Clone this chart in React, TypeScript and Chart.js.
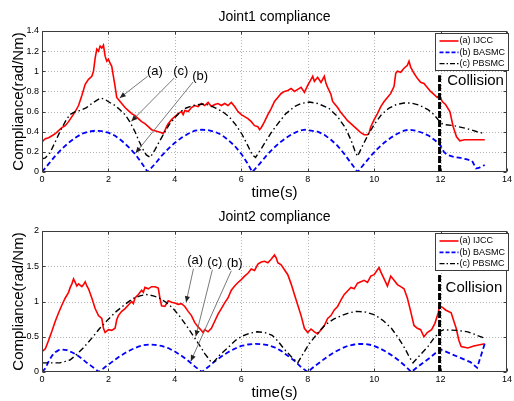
import React, { useEffect, useRef } from 'react';
import { Chart, registerables } from 'chart.js';

Chart.register(...registerables);

type Pt = [number, number];

const FONT = "'Liberation Sans', Arial, Helvetica, sans-serif";
const RED = '#ff0000';
const BLUE = '#0000ff';
const BLACK = '#000000';

const X_TICKS = [0, 2, 4, 6, 8, 10, 12, 14];
const J1_Y_TICKS = [0, 0.2, 0.4, 0.6, 0.8, 1, 1.2, 1.4];
const J2_Y_TICKS = [0, 0.5, 1, 1.5, 2];
const LEGEND_LABELS = ['(a) IJCC', '(b) BASMC', '(c) PBSMC'];
const X_LABEL = 'time(s)';
const Y_LABEL = 'Compliance(rad/Nm)';
const COLLISION_T = 11.97;
const J1_COLLISION_TOP = 0.96;
const J2_COLLISION_TOP = 1.38;

// Joint 1 series
const j1Ijcc: Pt[] = [
  [0, 0.3], [0.1, 0.33], [0.2, 0.34], [0.3, 0.36], [0.4, 0.38], [0.5, 0.41], [0.6, 0.44], [0.7, 0.46],
  [0.8, 0.5], [0.9, 0.55], [1.0, 0.6], [1.1, 0.66], [1.2, 0.76], [1.3, 0.87], [1.4, 0.92], [1.5, 0.95],
  [1.55, 1.0], [1.6, 1.13], [1.65, 1.22], [1.7, 1.2], [1.75, 1.25], [1.8, 1.23], [1.85, 1.26], [1.9, 1.15],
  [1.95, 1.1], [2.0, 1.12], [2.05, 1.08], [2.1, 1.05], [2.15, 0.95], [2.2, 0.85], [2.25, 0.74], [2.3, 0.72],
  [2.4, 0.68], [2.5, 0.64], [2.6, 0.61], [2.7, 0.58], [2.8, 0.56], [2.9, 0.53], [3.0, 0.5], [3.1, 0.48],
  [3.2, 0.45], [3.3, 0.42], [3.4, 0.41], [3.5, 0.4], [3.6, 0.39], [3.65, 0.38], [3.7, 0.41], [3.75, 0.45],
  [3.8, 0.48], [3.9, 0.52], [4.0, 0.55], [4.1, 0.58], [4.2, 0.6], [4.25, 0.57], [4.3, 0.61], [4.4, 0.6],
  [4.5, 0.64], [4.6, 0.66], [4.7, 0.65], [4.8, 0.68], [4.9, 0.66], [5.0, 0.69], [5.1, 0.65], [5.2, 0.67],
  [5.3, 0.68], [5.4, 0.66], [5.5, 0.68], [5.6, 0.66], [5.7, 0.69], [5.8, 0.65], [5.9, 0.6], [6.0, 0.57],
  [6.1, 0.55], [6.2, 0.53], [6.3, 0.5], [6.4, 0.46], [6.5, 0.45], [6.55, 0.42], [6.6, 0.44], [6.7, 0.5],
  [6.8, 0.57], [6.9, 0.63], [7.0, 0.7], [7.1, 0.74], [7.2, 0.78], [7.3, 0.8], [7.4, 0.81], [7.5, 0.83],
  [7.6, 0.8], [7.7, 0.82], [7.8, 0.84], [7.9, 0.79], [8.0, 0.86], [8.1, 0.92], [8.15, 0.95], [8.2, 0.9],
  [8.3, 0.94], [8.4, 0.89], [8.5, 0.95], [8.55, 0.88], [8.6, 0.84], [8.7, 0.77], [8.75, 0.7], [8.8, 0.68],
  [8.9, 0.64], [9.0, 0.59], [9.1, 0.55], [9.2, 0.51], [9.3, 0.48], [9.4, 0.45], [9.5, 0.42], [9.6, 0.39],
  [9.7, 0.37], [9.8, 0.37], [9.85, 0.39], [9.9, 0.45], [10.0, 0.52], [10.1, 0.58], [10.2, 0.65], [10.3, 0.7],
  [10.4, 0.74], [10.5, 0.78], [10.6, 0.85], [10.65, 0.98], [10.7, 1.0], [10.8, 0.99], [10.9, 1.03], [11.0, 1.06],
  [11.05, 1.1], [11.1, 1.04], [11.2, 0.98], [11.3, 0.93], [11.4, 0.89], [11.5, 0.88], [11.6, 0.84], [11.7, 0.8],
  [11.8, 0.77], [11.9, 0.74], [11.97, 0.76], [12.05, 0.7], [12.15, 0.67], [12.28, 0.6], [12.38, 0.45],
  [12.48, 0.35], [12.58, 0.31], [12.73, 0.32], [13.0, 0.32], [13.33, 0.32],
];

const j1Basmc: Pt[] = [
  [0, 0], [0.2, 0.08], [0.4, 0.16], [0.6, 0.23], [0.8, 0.29], [1.0, 0.34], [1.2, 0.38], [1.4, 0.4],
  [1.6, 0.41], [1.8, 0.405], [2.0, 0.39], [2.2, 0.36], [2.4, 0.31], [2.6, 0.25], [2.8, 0.18], [3.0, 0.09],
  [3.18, 0], [3.4, 0.08], [3.6, 0.16], [3.8, 0.23], [4.0, 0.29], [4.2, 0.34], [4.4, 0.38], [4.6, 0.41],
  [4.8, 0.42], [5.0, 0.415], [5.2, 0.4], [5.4, 0.37], [5.6, 0.32], [5.8, 0.26], [6.0, 0.18], [6.2, 0.08],
  [6.33, 0], [6.55, 0.08], [6.75, 0.16], [6.95, 0.23], [7.15, 0.29], [7.35, 0.34], [7.55, 0.38], [7.75, 0.41],
  [7.92, 0.42], [8.1, 0.41], [8.3, 0.4], [8.5, 0.37], [8.7, 0.32], [8.9, 0.26], [9.1, 0.18], [9.3, 0.09],
  [9.5, 0], [9.7, 0.08], [9.9, 0.16], [10.1, 0.23], [10.3, 0.29], [10.5, 0.34], [10.7, 0.38], [10.9, 0.41],
  [11.05, 0.42], [11.25, 0.41], [11.45, 0.39], [11.65, 0.36], [11.85, 0.31], [12.0, 0.26], [12.1, 0.2],
  [12.2, 0.17], [12.4, 0.15], [12.6, 0.14], [12.8, 0.125], [12.95, 0.11], [13.07, 0.035], [13.15, 0.04],
  [13.33, 0.07],
];

const j1Pbsmc: Pt[] = [
  [0, 0.13], [0.1, 0.14], [0.24, 0.19], [0.4, 0.3], [0.54, 0.4], [0.7, 0.5], [0.84, 0.57], [1.0, 0.6],
  [1.15, 0.61], [1.34, 0.64], [1.54, 0.69], [1.77, 0.735], [1.9, 0.72], [2.04, 0.69], [2.2, 0.66],
  [2.34, 0.62], [2.5, 0.57], [2.64, 0.5], [2.8, 0.4], [2.93, 0.3], [3.05, 0.22], [3.14, 0.17], [3.26, 0.145],
  [3.4, 0.22], [3.53, 0.3], [3.7, 0.4], [3.83, 0.47], [4.0, 0.54], [4.13, 0.585], [4.3, 0.63], [4.53, 0.66],
  [4.83, 0.675], [5.03, 0.665], [5.23, 0.635], [5.43, 0.6], [5.63, 0.55], [5.83, 0.47], [6.03, 0.37],
  [6.2, 0.26], [6.33, 0.17], [6.43, 0.145], [6.58, 0.22], [6.73, 0.3], [6.9, 0.39], [7.08, 0.47],
  [7.33, 0.575], [7.6, 0.65], [7.8, 0.68], [8.05, 0.695], [8.3, 0.68], [8.63, 0.635], [8.9, 0.55],
  [9.13, 0.44], [9.3, 0.32], [9.42, 0.21], [9.5, 0.155], [9.65, 0.26], [9.82, 0.37], [10.0, 0.47],
  [10.22, 0.57], [10.45, 0.635], [10.67, 0.67], [10.9, 0.685], [11.12, 0.685], [11.35, 0.665], [11.62, 0.62],
  [11.8, 0.57], [11.95, 0.51], [12.05, 0.48], [12.15, 0.47], [12.4, 0.46], [12.8, 0.43], [13.1, 0.4],
  [13.33, 0.38],
];

// Joint 2 series
const j2Ijcc: Pt[] = [
  [0, 0.29], [0.1, 0.33], [0.2, 0.45], [0.3, 0.58], [0.4, 0.72], [0.5, 0.84], [0.6, 0.95], [0.7, 1.05],
  [0.8, 1.13], [0.85, 1.2], [0.9, 1.25], [0.95, 1.32], [1.0, 1.27], [1.05, 1.22], [1.1, 1.25], [1.2, 1.21],
  [1.25, 1.24], [1.3, 1.28], [1.35, 1.22], [1.4, 1.18], [1.5, 1.05], [1.6, 0.9], [1.7, 0.8], [1.8, 0.76],
  [1.85, 0.62], [1.9, 0.56], [2.0, 0.6], [2.1, 0.59], [2.2, 0.62], [2.25, 0.74], [2.3, 0.8], [2.4, 0.86],
  [2.5, 0.9], [2.6, 0.95], [2.7, 1.0], [2.75, 0.97], [2.8, 1.05], [2.9, 1.1], [3.0, 1.16], [3.05, 1.13],
  [3.1, 1.2], [3.2, 1.18], [3.3, 1.21], [3.4, 1.21], [3.5, 1.19], [3.55, 1.05], [3.6, 0.94], [3.7, 0.93],
  [3.8, 1.01], [3.9, 0.99], [4.0, 0.98], [4.1, 0.96], [4.2, 0.97], [4.3, 0.93], [4.4, 0.86], [4.5, 0.8],
  [4.6, 0.7], [4.7, 0.64], [4.8, 0.59], [4.85, 0.56], [4.9, 0.6], [5.0, 0.57], [5.1, 0.62], [5.2, 0.72],
  [5.3, 0.82], [5.4, 0.9], [5.5, 0.98], [5.6, 1.05], [5.7, 1.16], [5.8, 1.22], [5.9, 1.27], [6.0, 1.31],
  [6.1, 1.36], [6.2, 1.4], [6.3, 1.46], [6.4, 1.44], [6.5, 1.53], [6.6, 1.56], [6.7, 1.57], [6.8, 1.55],
  [6.9, 1.6], [7.0, 1.66], [7.05, 1.62], [7.1, 1.55], [7.2, 1.52], [7.3, 1.45], [7.4, 1.38], [7.5, 1.25],
  [7.6, 1.1], [7.7, 0.95], [7.8, 0.8], [7.9, 0.62], [8.0, 0.56], [8.1, 0.61], [8.2, 0.57], [8.3, 0.54],
  [8.4, 0.6], [8.5, 0.66], [8.6, 0.76], [8.7, 0.8], [8.8, 0.88], [8.9, 0.93], [9.0, 1.02], [9.1, 1.1],
  [9.2, 1.15], [9.3, 1.2], [9.4, 1.18], [9.5, 1.26], [9.6, 1.28], [9.7, 1.3], [9.8, 1.27], [9.9, 1.36],
  [10.0, 1.38], [10.1, 1.45], [10.15, 1.48], [10.2, 1.42], [10.3, 1.32], [10.4, 1.22], [10.5, 1.36],
  [10.6, 1.3], [10.7, 1.24], [10.8, 1.21], [10.9, 1.18], [11.0, 1.05], [11.1, 0.86], [11.2, 0.66],
  [11.3, 0.62], [11.4, 0.6], [11.5, 0.5], [11.6, 0.56], [11.73, 0.6], [11.83, 0.69], [11.93, 0.84],
  [11.97, 0.93], [12.05, 0.92], [12.15, 0.88], [12.32, 0.84], [12.4, 0.72], [12.47, 0.62], [12.55, 0.45],
  [12.62, 0.36], [12.82, 0.34], [13.0, 0.37], [13.33, 0.4],
];

const j2Basmc: Pt[] = [
  [0, 0], [0.1, 0.05], [0.2, 0.15], [0.3, 0.23], [0.4, 0.28], [0.5, 0.31], [0.6, 0.32], [0.75, 0.31],
  [0.9, 0.28], [1.05, 0.24], [1.2, 0.19], [1.35, 0.13], [1.5, 0.08], [1.72, 0], [1.9, 0.07], [2.1, 0.14],
  [2.3, 0.21], [2.5, 0.27], [2.7, 0.32], [2.9, 0.36], [3.05, 0.38], [3.23, 0.39], [3.4, 0.385], [3.6, 0.37],
  [3.8, 0.34], [4.0, 0.29], [4.2, 0.23], [4.4, 0.16], [4.6, 0.08], [4.81, 0], [5.0, 0.07], [5.2, 0.15],
  [5.4, 0.22], [5.6, 0.28], [5.8, 0.33], [6.0, 0.37], [6.2, 0.39], [6.43, 0.4], [6.6, 0.395], [6.8, 0.38],
  [7.0, 0.35], [7.2, 0.3], [7.4, 0.23], [7.6, 0.16], [7.8, 0.07], [8.0, 0], [8.2, 0.08], [8.4, 0.15],
  [8.6, 0.22], [8.8, 0.28], [9.0, 0.33], [9.2, 0.37], [9.4, 0.39], [9.57, 0.4], [9.75, 0.395], [9.95, 0.38],
  [10.15, 0.34], [10.35, 0.29], [10.55, 0.23], [10.75, 0.16], [10.95, 0.08], [11.12, 0], [11.3, 0.07],
  [11.5, 0.14], [11.7, 0.21], [11.85, 0.27], [12.0, 0.32], [12.3, 0.26], [12.6, 0.2], [12.9, 0.14],
  [13.05, 0.08], [13.1, 0.06], [13.33, 0.4],
];

const j2Pbsmc: Pt[] = [
  [0, 0.13], [0.3, 0.13], [0.54, 0.13], [0.7, 0.15], [0.84, 0.17], [1.0, 0.23], [1.24, 0.34], [1.5, 0.48],
  [1.74, 0.62], [2.0, 0.75], [2.24, 0.86], [2.5, 0.96], [2.73, 1.04], [2.95, 1.08], [3.14, 1.1], [3.35, 1.08],
  [3.53, 1.05], [3.73, 0.99], [3.93, 0.91], [4.13, 0.8], [4.33, 0.67], [4.53, 0.53], [4.73, 0.39], [4.9, 0.26],
  [5.08, 0.15], [5.15, 0.13], [5.35, 0.24], [5.63, 0.36], [5.83, 0.45], [6.03, 0.51], [6.25, 0.55],
  [6.48, 0.57], [6.7, 0.56], [6.93, 0.52], [7.1, 0.44], [7.3, 0.32], [7.5, 0.22], [7.7, 0.13], [7.85, 0.25],
  [8.03, 0.39], [8.28, 0.54], [8.53, 0.67], [8.78, 0.75], [9.02, 0.8], [9.25, 0.84], [9.47, 0.86],
  [9.75, 0.85], [10.02, 0.81], [10.27, 0.73], [10.52, 0.62], [10.72, 0.49], [10.92, 0.34], [11.05, 0.22],
  [11.17, 0.13], [11.4, 0.25], [11.62, 0.36], [11.8, 0.48], [12.0, 0.58], [12.1, 0.6], [12.5, 0.59],
  [12.82, 0.57], [13.1, 0.52], [13.32, 0.48],
];

// Callouts: label position, arrow start, arrow tip (data units)
type Note = { text: string; tx: number; ty: number; sx: number; sy: number; ex: number; ey: number };
const J1_NOTES: Note[] = [
  { text: '(a)', tx: 3.4, ty: 1.0, sx: 3.18, sy: 0.95, ex: 2.34, ey: 0.735 },
  { text: '(c)', tx: 4.18, ty: 1.0, sx: 3.98, sy: 0.933, ex: 2.69, ey: 0.503 },
  { text: '(b)', tx: 4.76, ty: 0.948, sx: 4.55, sy: 0.894, ex: 2.82, ey: 0.189 },
];
const J2_NOTES: Note[] = [
  { text: '(a)', tx: 4.61, ty: 1.584, sx: 4.56, sy: 1.465, ex: 4.34, ey: 0.99 },
  { text: '(c)', tx: 5.2, ty: 1.56, sx: 5.13, sy: 1.45, ex: 4.63, ey: 0.506 },
  { text: '(b)', tx: 5.8, ty: 1.546, sx: 5.7, sy: 1.436, ex: 4.48, ey: 0.154 },
];

type Panel = {
  title: string;
  yMax: number;
  yTicks: number[];
  ijcc: Pt[];
  basmc: Pt[];
  pbsmc: Pt[];
  collisionTop: number;
  collisionLabelX: number;
  collisionLabelY: number;
  notes: Note[];
};

const PANELS: Panel[] = [
  {
    title: 'Joint1 compliance', yMax: 1.4, yTicks: J1_Y_TICKS,
    ijcc: j1Ijcc, basmc: j1Basmc, pbsmc: j1Pbsmc,
    collisionTop: J1_COLLISION_TOP, collisionLabelX: 12.2, collisionLabelY: 0.9, notes: J1_NOTES,
  },
  {
    title: 'Joint2 compliance', yMax: 2, yTicks: J2_Y_TICKS,
    ijcc: j2Ijcc, basmc: j2Basmc, pbsmc: j2Pbsmc,
    collisionTop: J2_COLLISION_TOP, collisionLabelX: 12.15, collisionLabelY: 1.2, notes: J2_NOTES,
  },
];

const toXY = (pts: Pt[]) => pts.map(([x, y]) => ({ x, y }));
const fmt = (v: any) => String(Number(Number(v).toFixed(2)));

const LEGEND_STYLES = [
  { color: RED, dash: [] as number[], width: 1.6 },
  { color: BLUE, dash: [4, 2], width: 1.8 },
  { color: BLACK, dash: [5, 2, 1.5, 2], width: 1.4 },
];

function makeDecor(p: Panel) {
  return {
    id: 'decor',
    beforeDatasetsDraw(chart: any) {
      const { ctx, chartArea: a, scales } = chart;
      const xs = scales.x;
      const ys = scales.y;
      ctx.save();
      ctx.strokeStyle = '#b4b4b4';
      ctx.lineWidth = 1;
      ctx.setLineDash([1, 2]);
      X_TICKS.forEach((v) => {
        const px = Math.round(xs.getPixelForValue(v)) + 0.5;
        if (px <= a.left + 1 || px >= a.right - 1) return;
        ctx.beginPath();
        ctx.moveTo(px, a.top);
        ctx.lineTo(px, a.bottom);
        ctx.stroke();
      });
      p.yTicks.forEach((v) => {
        const py = Math.round(ys.getPixelForValue(v)) + 0.5;
        if (py <= a.top + 1 || py >= a.bottom - 1) return;
        ctx.beginPath();
        ctx.moveTo(a.left, py);
        ctx.lineTo(a.right, py);
        ctx.stroke();
      });
      ctx.restore();
    },
    afterDatasetsDraw(chart: any) {
      const { ctx, chartArea: a, scales } = chart;
      const xs = scales.x;
      const ys = scales.y;
      ctx.save();
      // axes box
      ctx.setLineDash([]);
      ctx.strokeStyle = '#3c3c3c';
      ctx.lineWidth = 1;
      const L = Math.round(a.left) + 0.5;
      const R = Math.round(a.right) - 0.5;
      const T = Math.round(a.top) + 0.5;
      const B = Math.round(a.bottom) - 0.5;
      ctx.strokeRect(L, T, R - L, B - T);
      // inward ticks
      ctx.beginPath();
      X_TICKS.forEach((v) => {
        const px = Math.round(xs.getPixelForValue(v)) + 0.5;
        ctx.moveTo(px, B); ctx.lineTo(px, B - 3);
        ctx.moveTo(px, T); ctx.lineTo(px, T + 3);
      });
      p.yTicks.forEach((v) => {
        const py = Math.round(ys.getPixelForValue(v)) + 0.5;
        ctx.moveTo(L, py); ctx.lineTo(L + 3, py);
        ctx.moveTo(R, py); ctx.lineTo(R - 3, py);
      });
      ctx.stroke();

      // title
      ctx.fillStyle = '#000';
      ctx.font = `14px ${FONT}`;
      ctx.textAlign = 'center';
      ctx.textBaseline = 'middle';
      ctx.fillText(p.title, (a.left + a.right) / 2, 17);

      // collision label
      ctx.font = `15px ${FONT}`;
      ctx.textAlign = 'left';
      ctx.fillText('Collision', xs.getPixelForValue(p.collisionLabelX), ys.getPixelForValue(p.collisionLabelY));

      // callouts
      p.notes.forEach((n) => {
        const sx = xs.getPixelForValue(n.sx);
        const sy = ys.getPixelForValue(n.sy);
        const ex = xs.getPixelForValue(n.ex);
        const ey = ys.getPixelForValue(n.ey);
        ctx.strokeStyle = '#6a6a6a';
        ctx.lineWidth = 0.9;
        ctx.beginPath();
        ctx.moveTo(sx, sy);
        ctx.lineTo(ex, ey);
        ctx.stroke();
        const ang = Math.atan2(ey - sy, ex - sx);
        const hl = 6;
        const hw = 2.6;
        ctx.fillStyle = '#222';
        ctx.beginPath();
        ctx.moveTo(ex, ey);
        ctx.lineTo(ex - hl * Math.cos(ang) + hw * Math.sin(ang), ey - hl * Math.sin(ang) - hw * Math.cos(ang));
        ctx.lineTo(ex - hl * Math.cos(ang) - hw * Math.sin(ang), ey - hl * Math.sin(ang) + hw * Math.cos(ang));
        ctx.closePath();
        ctx.fill();
        ctx.fillStyle = '#000';
        ctx.font = `13px ${FONT}`;
        ctx.textAlign = 'center';
        ctx.textBaseline = 'middle';
        ctx.fillText(n.text, xs.getPixelForValue(n.tx), ys.getPixelForValue(n.ty));
      });

      // legend
      const bx = 435.5;
      const by = a.top + 2.5;
      const bw = 73;
      const bh = 37;
      ctx.fillStyle = '#fff';
      ctx.fillRect(bx, by, bw, bh);
      ctx.strokeStyle = '#3c3c3c';
      ctx.lineWidth = 1;
      ctx.setLineDash([]);
      ctx.strokeRect(bx, by, bw, bh);
      LEGEND_LABELS.forEach((lab, i) => {
        const yy = by + 7.5 + i * 11.3;
        const st = LEGEND_STYLES[i];
        ctx.strokeStyle = st.color;
        ctx.lineWidth = st.width;
        ctx.setLineDash(st.dash);
        ctx.beginPath();
        ctx.moveTo(bx + 4, yy);
        ctx.lineTo(bx + 23, yy);
        ctx.stroke();
        ctx.setLineDash([]);
        ctx.fillStyle = '#000';
        ctx.font = `9px ${FONT}`;
        ctx.textAlign = 'left';
        ctx.textBaseline = 'middle';
        ctx.fillText(lab, bx + 24, yy);
      });
      ctx.restore();
    },
  };
}

function ChartPanel({ panel, top }: { panel: Panel; top: number }) {
  const ref = useRef<HTMLCanvasElement | null>(null);
  useEffect(() => {
    if (!ref.current) return;
    const chart = new Chart(ref.current, {
      type: 'line',
      data: {
        datasets: [
          { label: LEGEND_LABELS[0], data: toXY(panel.ijcc), borderColor: RED, borderWidth: 1.6, pointRadius: 0, tension: 0, fill: false, order: 3 },
          { label: LEGEND_LABELS[1], data: toXY(panel.basmc), borderColor: BLUE, borderWidth: 1.8, borderDash: [5, 3], pointRadius: 0, tension: 0, fill: false, order: 2 },
          { label: LEGEND_LABELS[2], data: toXY(panel.pbsmc), borderColor: BLACK, borderWidth: 1.4, borderDash: [6, 3, 1.5, 3], pointRadius: 0, tension: 0, fill: false, order: 1 },
          { label: 'Collision', data: [{ x: COLLISION_T, y: 0 }, { x: COLLISION_T, y: panel.collisionTop }], borderColor: BLACK, borderWidth: 3, borderDash: [7, 2], pointRadius: 0, fill: false, order: 0 },
        ],
      } as any,
      options: {
        responsive: false,
        animation: false,
        events: [],
        layout: { padding: { top: 31, right: 4.5, left: 0, bottom: 0 } },
        plugins: { legend: { display: false }, tooltip: { enabled: false }, title: { display: false } },
        scales: {
          x: {
            type: 'linear', min: 0, max: 14,
            afterBuildTicks: (s: any) => { s.ticks = X_TICKS.map((v) => ({ value: v })); },
            afterFit: (s: any) => { s.height = 28; },
            grid: { display: false, drawTicks: false },
            border: { display: false },
            ticks: { font: { family: FONT, size: 9 }, color: '#000', padding: 2, maxRotation: 0, autoSkip: false, callback: fmt },
            title: { display: true, text: X_LABEL, color: '#000', font: { family: FONT, size: 15, lineHeight: 1 }, padding: { top: 0, bottom: 0 } },
          },
          y: {
            type: 'linear', min: 0, max: panel.yMax,
            afterBuildTicks: (s: any) => { s.ticks = panel.yTicks.map((v) => ({ value: v })); },
            afterFit: (s: any) => { s.width = 42; },
            grid: { display: false, drawTicks: false },
            border: { display: false },
            ticks: { font: { family: FONT, size: 9 }, color: '#000', padding: 3, autoSkip: false, callback: fmt },
            title: { display: true, text: Y_LABEL, color: '#000', font: { family: FONT, size: 15, lineHeight: 1 }, padding: { top: 11, bottom: 0 } },
          },
        },
      } as any,
      plugins: [makeDecor(panel)],
    });
    return () => chart.destroy();
  }, [panel]);
  return (
    <canvas
      ref={ref}
      width={514}
      height={200}
      style={{ position: 'absolute', left: 0, top, width: 514, height: 200, display: 'block' }}
    />
  );
}

export default function App() {
  return (
    <div style={{ position: 'absolute', left: 0, top: 0, width: 514, height: 401, background: '#fff', overflow: 'hidden' }}>
      <ChartPanel panel={PANELS[0]} top={0} />
      <ChartPanel panel={PANELS[1]} top={200} />
    </div>
  );
}
